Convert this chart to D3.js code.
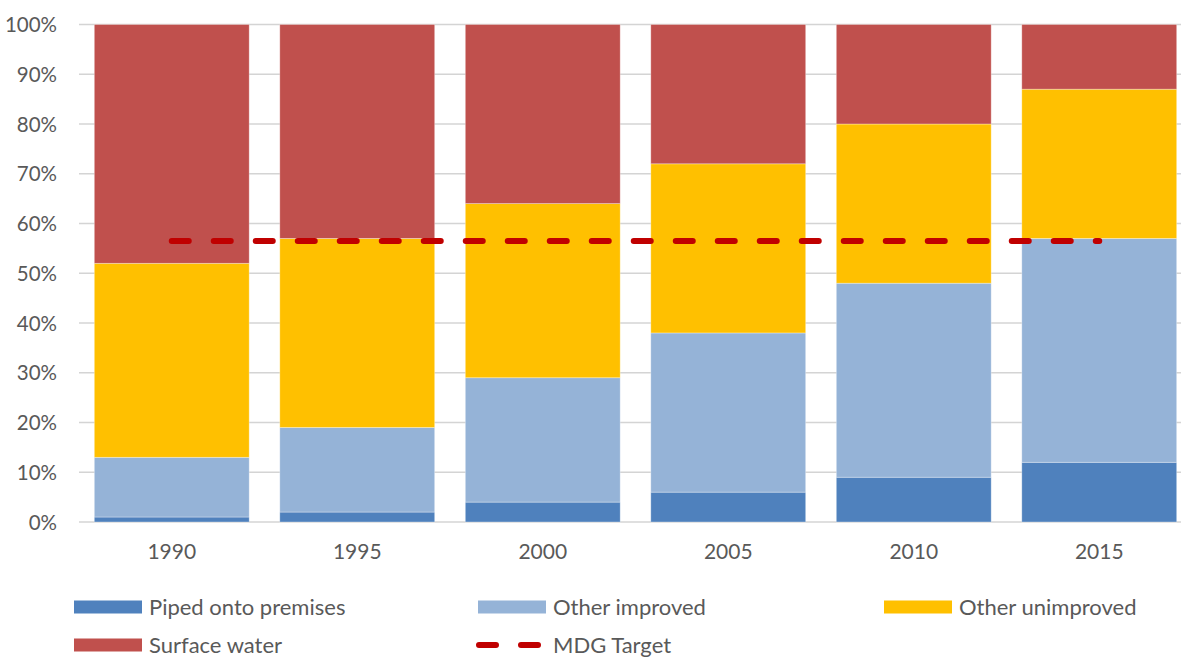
<!DOCTYPE html>
<html>
<head>
<meta charset="utf-8">
<script src="https://cdn.jsdelivr.net/npm/d3@7"></script>
<style>
  body { margin: 0; background: #fff; }
  text { font-family: Lato, "Open Sans", sans-serif; fill: #595959; }
</style>
</head>
<body>
<div id="chart"></div>
<script>
// data (percent of population)
var years = ["1990", "1995", "2000", "2005", "2010", "2015"];
var piped = [1, 2, 4, 6, 9, 12];
var otherImproved = [12, 17, 25, 32, 39, 45];
var otherUnimproved = [39, 38, 35, 34, 32, 30];
var surfaceWater = [48, 43, 36, 28, 20, 13];
var mdgTarget = 56.5;
var yTicks = [0, 10, 20, 30, 40, 50, 60, 70, 80, 90, 100];

var seriesNames = ["Piped onto premises", "Other improved", "Other unimproved", "Surface water"];
var seriesColors = ["#4f81bd", "#95b3d7", "#ffc000", "#c0504d"];

var svgWidth = 1181;
var svgHeight = 658;

var svg = d3.select("#chart")
  .append("svg")
  .attr("width", svgWidth)
  .attr("height", svgHeight);

// build rows for the stack
var rows = years.map(function(y, i) {
  return {
    year: y,
    "Piped onto premises": piped[i],
    "Other improved": otherImproved[i],
    "Other unimproved": otherUnimproved[i],
    "Surface water": surfaceWater[i]
  };
});

var stacked = d3.stack().keys(seriesNames)(rows);

var xScale = d3.scaleBand()
  .domain(years)
  .range([79, 1192])
  .paddingInner(0.165)
  .paddingOuter(0.0825);

var yScale = d3.scaleLinear()
  .domain([0, 100])
  .range([522, 24.5]);

// gridlines
svg.append("g")
  .selectAll("line")
  .data(yTicks)
  .enter()
  .append("line")
  .attr("x1", 79)
  .attr("x2", svgWidth)
  .attr("y1", d => yScale(d))
  .attr("y2", d => yScale(d))
  .attr("stroke", "#d4d4d4")
  .attr("stroke-width", 1.6);

// y axis labels
var leftAxis = d3.axisLeft(yScale)
  .tickValues(yTicks)
  .tickFormat(d => d + "%")
  .tickSize(0)
  .tickPadding(0);

var yAxisG = svg.append("g")
  .attr("transform", "translate(57, 0)")
  .call(leftAxis);
yAxisG.select(".domain").remove();
yAxisG.selectAll("text")
  .attr("font-size", "20.5px")
  .attr("dy", "0.35em")
  .style("font-family", "Lato, sans-serif")
  .attr("fill", "#595959");

// stacked bars
svg.append("g")
  .selectAll("g")
  .data(stacked)
  .enter()
  .append("g")
  .attr("fill", (d, i) => seriesColors[i])
  .selectAll("rect")
  .data(d => d)
  .enter()
  .append("rect")
  .attr("x", d => xScale(d.data.year))
  .attr("width", xScale.bandwidth())
  .attr("y", d => yScale(d[1]))
  .attr("height", d => yScale(d[0]) - yScale(d[1]))
  .attr("stroke", "#ffffff")
  .attr("stroke-opacity", 0.4)
  .attr("stroke-width", 0.8);

// x axis labels
var bottomAxis = d3.axisBottom(xScale)
  .tickSize(0)
  .tickPadding(0);

var xAxisG = svg.append("g")
  .attr("transform", "translate(0, 552)")
  .call(bottomAxis);
xAxisG.select(".domain").remove();
xAxisG.selectAll("text")
  .attr("font-size", "21px")
  .attr("dy", "0.35em")
  .style("font-family", "Lato, sans-serif")
  .attr("fill", "#595959");

// MDG target dashed line, from first bar centre to last bar centre
var half = xScale.bandwidth() / 2;
svg.append("line")
  .attr("x1", xScale(years[0]) + half)
  .attr("x2", xScale(years[years.length - 1]) + half)
  .attr("y1", yScale(mdgTarget))
  .attr("y2", yScale(mdgTarget))
  .attr("stroke", "#c00000")
  .attr("stroke-width", 6)
  .attr("stroke-linecap", "round")
  .attr("stroke-dasharray", "17,25");

// legend
var legendItems = [
  { name: "Piped onto premises", color: seriesColors[0], x: 74, y: 607 },
  { name: "Other improved", color: seriesColors[1], x: 478, y: 607 },
  { name: "Other unimproved", color: seriesColors[2], x: 884, y: 607 },
  { name: "Surface water", color: seriesColors[3], x: 74, y: 645 }
];

var legend = svg.append("g");

legendItems.forEach(function(item) {
  legend.append("rect")
    .attr("x", item.x)
    .attr("y", item.y - 6.5)
    .attr("width", 68)
    .attr("height", 13)
    .attr("fill", item.color);
  legend.append("text")
    .attr("x", item.x + 75)
    .attr("y", item.y)
    .attr("dy", "0.35em")
    .attr("font-size", "22px")
    .text(item.name);
});

// MDG target legend entry
legend.append("line")
  .attr("x1", 479)
  .attr("x2", 540)
  .attr("y1", 645)
  .attr("y2", 645)
  .attr("stroke", "#c00000")
  .attr("stroke-width", 6)
  .attr("stroke-linecap", "round")
  .attr("stroke-dasharray", "17,25");

legend.append("text")
  .attr("x", 553)
  .attr("y", 645)
  .attr("dy", "0.35em")
  .attr("font-size", "22px")
  .text("MDG Target");
</script>
</body>
</html>
